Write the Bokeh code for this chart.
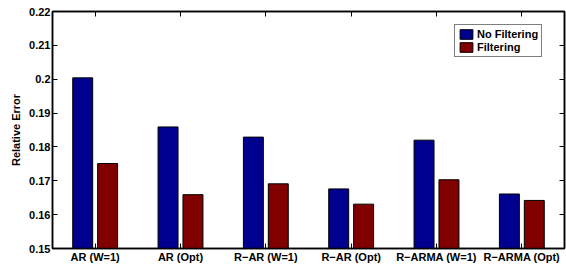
from bokeh.plotting import figure
from bokeh.models import (FactorRange, Range1d, ColumnDataSource, FixedTicker,
                          LinearAxis, CategoricalAxis, Legend, LegendItem,
                          CustomLabelingPolicy)
from bokeh.transform import dodge
from bokeh.embed import file_html
from bokeh.resources import INLINE

categories = ["AR (W=1)", "AR (Opt)", "R\u2212AR (W=1)", "R\u2212AR (Opt)",
              "R\u2212ARMA (W=1)", "R\u2212ARMA (Opt)"]
no_filtering = [0.2004, 0.1859, 0.1829, 0.1676, 0.1820, 0.1661]
filtering = [0.1751, 0.1659, 0.1691, 0.1631, 0.1703, 0.1642]
y_ticks = [0.15, 0.16, 0.17, 0.18, 0.19, 0.2, 0.21, 0.22]
y_tick_labels = ["0.15", "0.16", "0.17", "0.18", "0.19", "0.2", "0.21", "0.22"]

FONT = "Liberation Sans"
BLUE = "#00008F"
RED = "#800000"

src = ColumnDataSource(dict(cat=categories, nf=no_filtering, f=filtering))

p = figure(x_range=FactorRange(factors=categories, range_padding=0),
           y_range=Range1d(0.15, 0.22),
           frame_width=512, frame_height=237,
           min_border_left=52, min_border_right=2, min_border_top=11,
           min_border_bottom=16,
           output_backend="svg", toolbar_location=None,
           background_fill_color="white", border_fill_color="white")
p.xgrid.visible = False
p.ygrid.visible = False
p.outline_line_color = "black"
p.outline_line_width = 1.5

r1 = p.vbar(x=dodge("cat", -0.146, range=p.x_range), top="nf", bottom=0,
            width=0.234, source=src, fill_color=BLUE, line_color="black",
            line_width=1)
r2 = p.vbar(x=dodge("cat", 0.146, range=p.x_range), top="f", bottom=0,
            width=0.234, source=src, fill_color=RED, line_color="black",
            line_width=1)


def style_axis(ax, show_labels=True):
    ax.axis_line_color = "black"
    ax.axis_line_width = 1.5
    ax.major_tick_in = 5
    ax.major_tick_out = 0
    ax.major_tick_line_color = "black"
    ax.major_tick_line_width = 1
    ax.minor_tick_line_color = None
    ax.major_label_text_font = FONT
    ax.major_label_text_font_style = "bold"
    ax.major_label_text_color = "black"
    if show_labels:
        ax.major_label_text_font_size = "11px"
        ax.major_label_standoff = 2
    else:
        ax.major_label_text_font_size = "1px"
        ax.major_label_standoff = 0
        ax.major_label_policy = CustomLabelingPolicy(code="return []")


# left axis
yax = p.yaxis[0]
yax.ticker = FixedTicker(ticks=y_ticks)
yax.major_label_overrides = {t: l for t, l in zip(y_ticks, y_tick_labels)}
style_axis(yax)
yax.axis_label = "Relative Error"
yax.axis_label_text_font = FONT
yax.axis_label_text_font_style = "bold"
yax.axis_label_text_font_size = "11px"
yax.axis_label_text_color = "black"
yax.axis_label_standoff = 4

# bottom axis
xax = p.xaxis[0]
style_axis(xax)

# right axis
rax = LinearAxis(ticker=FixedTicker(ticks=y_ticks))
style_axis(rax, show_labels=False)
p.add_layout(rax, "right")

# top axis
tax = CategoricalAxis()
style_axis(tax, show_labels=False)
p.add_layout(tax, "above")

legend = Legend(items=[LegendItem(label="No Filtering", renderers=[r1]),
                       LegendItem(label="Filtering", renderers=[r2])],
                location=(402, 191))
legend.label_text_font = FONT
legend.label_text_font_style = "bold"
legend.label_text_font_size = "11px"
legend.label_text_color = "black"
legend.label_standoff = 3
legend.label_height = 12
legend.glyph_width = 16
legend.glyph_height = 12
legend.spacing = 1
legend.padding = 3
legend.margin = 0
legend.border_line_color = "black"
legend.border_line_width = 1
legend.background_fill_color = "white"
legend.background_fill_alpha = 1
p.add_layout(legend, "center")

open("out.html", "w").write(file_html(p, INLINE))
